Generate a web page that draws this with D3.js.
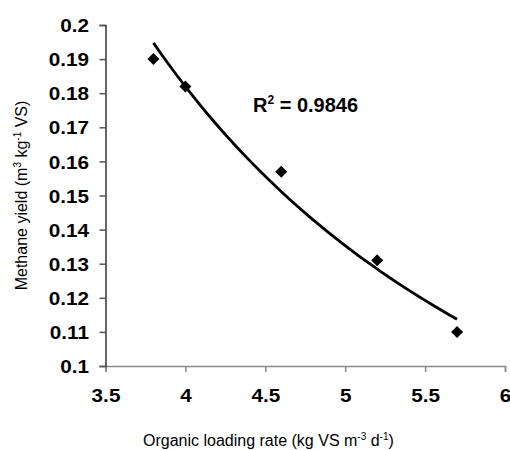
<!DOCTYPE html>
<html>
<head>
<meta charset="utf-8">
<script src="https://cdn.jsdelivr.net/npm/d3@7"></script>
<style>
  body { margin: 0; background: #fff; }
  text { font-family: "Liberation Sans", Arial, sans-serif; }
</style>
</head>
<body>
<div id="chart"></div>
<script>
// Data
var loadingRate = [3.8, 4.0, 4.6, 5.2, 5.7];
var methaneYield = [0.190, 0.182, 0.157, 0.131, 0.110];
var xTicks = [3.5, 4, 4.5, 5, 5.5, 6];
var yTicks = [0.1, 0.11, 0.12, 0.13, 0.14, 0.15, 0.16, 0.17, 0.18, 0.19, 0.2];
var rSquared = "0.9846";

var width = 510,
    height = 450,
    margin = { left: 105.5, right: 5, top: 25, bottom: 84 },
    stretch = 1.12; // tick labels in the figure are a bit wide

var x = d3.scaleLinear().domain([3.5, 6]).range([margin.left, width - margin.right]);
var y = d3.scaleLinear().domain([0.1, 0.2]).range([height - margin.bottom, margin.top]);

var svg = d3.select("#chart").append("svg")
    .attr("width", width)
    .attr("height", height);

// power trendline (least squares in log-log space, like Excel)
var lx = loadingRate.map(Math.log),
    ly = methaneYield.map(Math.log),
    mx = d3.mean(lx), my = d3.mean(ly);
var b = d3.sum(lx, function(v, i) { return (v - mx) * (ly[i] - my); }) /
        d3.sum(lx, function(v) { return (v - mx) * (v - mx); });
var a = Math.exp(my - b * mx);
var trend = d3.range(0, 41).map(function(i) {
    var xv = loadingRate[0] + (loadingRate[loadingRate.length - 1] - loadingRate[0]) * i / 40;
    return [xv, a * Math.pow(xv, b)];
});

// axes
var xAxis = svg.append("g")
    .attr("transform", "translate(0," + y(0.1) + ")")
    .call(d3.axisBottom(x).tickValues(xTicks).tickSize(6).tickFormat(d3.format("")));
xAxis.select(".domain").attr("stroke", "#888").attr("stroke-width", 1.5);
xAxis.selectAll(".tick line").attr("stroke", "#888").attr("stroke-width", 1.5);

var yAxis = svg.append("g")
    .attr("transform", "translate(" + x(3.5) + ",0)")
    .call(d3.axisLeft(y).tickValues(yTicks).tickSize(6).tickFormat(d3.format("")));
yAxis.select(".domain").attr("stroke", "#333").attr("stroke-width", 1.5);
yAxis.selectAll(".tick line").attr("stroke", "#555").attr("stroke-width", 1.5);

svg.selectAll(".tick text")
    .attr("font-family", "'Liberation Sans', Arial, sans-serif")
    .attr("font-size", 18.5)
    .attr("font-weight", "bold")
    .style("font-weight", "bold")
    .attr("fill", "#000");
xAxis.selectAll(".tick text")
    .attr("y", 36)
    .attr("dy", 0)
    .attr("transform", "scale(" + stretch + ",1)");
yAxis.selectAll(".tick text")
    .attr("x", -16.5 / stretch)
    .attr("dy", "0.36em")
    .attr("transform", "scale(" + stretch + ",1)");

// trendline
svg.append("path")
    .datum(trend)
    .attr("fill", "none")
    .attr("stroke", "#000")
    .attr("stroke-width", 2.8)
    .attr("d", d3.line().x(function(d) { return x(d[0]); }).y(function(d) { return y(d[1]); }));

// points
svg.selectAll(".pt")
    .data(loadingRate)
    .enter().append("path")
    .attr("class", "pt")
    .attr("d", d3.symbol().type(d3.symbolSquare).size(72))
    .attr("transform", function(d, i) {
        return "translate(" + x(d) + "," + y(methaneYield[i]) + ") rotate(45)";
    })
    .attr("fill", "#000");

// R squared label
var r2 = svg.append("text")
    .attr("x", 253)
    .attr("y", 112)
    .style("font-size", "20px")
    .style("font-weight", "bold");
r2.append("tspan").text("R");
r2.append("tspan").attr("dy", -8).style("font-size", "12px").text("2");
r2.append("tspan").attr("dy", 8).text(" = " + rSquared);

// x axis title
var xt = svg.append("text")
    .attr("x", 143)
    .attr("y", 446)
    .style("font-size", "16px");
xt.append("tspan").text("Organic loading rate (kg VS m");
xt.append("tspan").attr("dy", -6).style("font-size", "10px").text("-3");
xt.append("tspan").attr("dy", 6).text(" d");
xt.append("tspan").attr("dy", -6).style("font-size", "10px").text("-1");
xt.append("tspan").attr("dy", 6).text(")");

// y axis title
var yt = svg.append("text")
    .attr("transform", "translate(27," + ((y(0.1) + y(0.2)) / 2) + ") rotate(-90)")
    .attr("text-anchor", "middle")
    .style("font-size", "16px");
yt.append("tspan").text("Methane yield (m");
yt.append("tspan").attr("dy", -6).style("font-size", "10px").text("3");
yt.append("tspan").attr("dy", 6).text(" kg");
yt.append("tspan").attr("dy", -6).style("font-size", "10px").text("-1");
yt.append("tspan").attr("dy", 6).text(" VS)");
</script>
</body>
</html>
